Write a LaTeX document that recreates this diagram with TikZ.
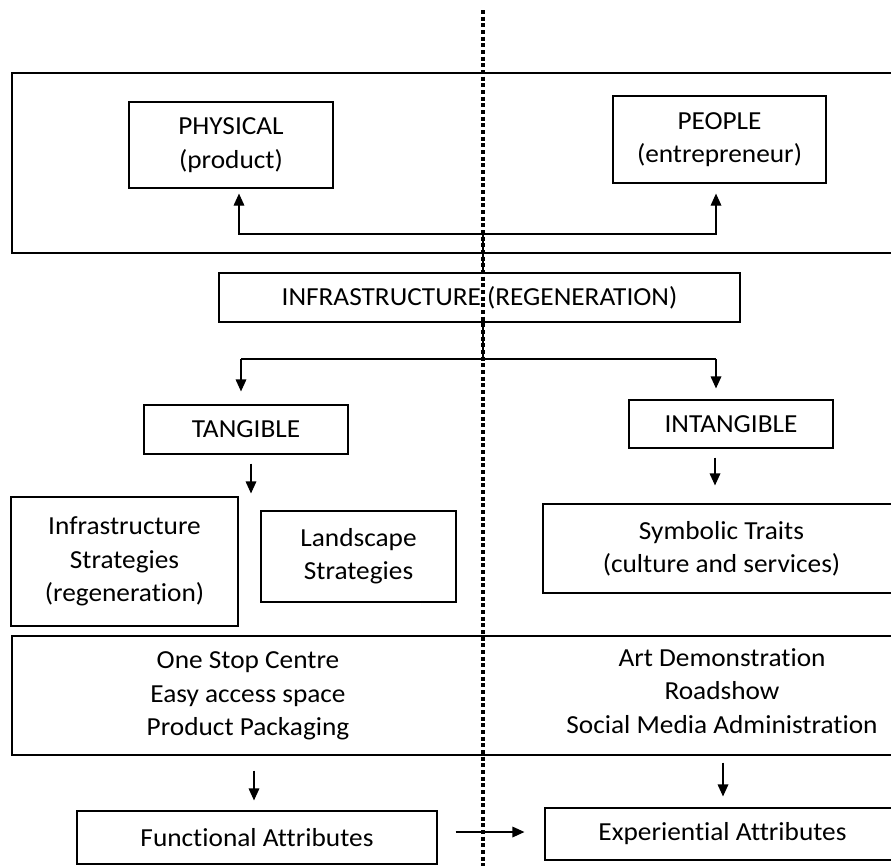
\documentclass[tikz,border=0pt]{standalone}
\usepackage{fontspec}
\setmainfont[FakeStretch=1.05,Ligatures={NoCommon}]{Carlito}
\usetikzlibrary{arrows.meta}
\newcommand\mybox[6]{\node[box, minimum width={(#4-#2)*0.75pt}, minimum height={(#5-#3)*0.75pt}] (#1) at ({(#2+#4)/2},{(#3+#5)/2}) {#6};}
\begin{document}
\begin{tikzpicture}[x=0.75pt,y=-0.75pt,
  txt/.style={inner sep=0pt, align=center, font=\fontsize{19.5}{25}\selectfont},
  box/.style={txt, draw, line width=0.9pt},
  conn/.style={line width=0.9pt},
  arr/.style={conn, -{Triangle[length=9pt,width=8pt]}},
  divider/.style={line width=3.2pt, dash pattern=on 3pt off 2pt}]
\useasboundingbox (0,0) rectangle (891,865);
\clip (0,0) rectangle (891,865);
% containers
\mybox{topbox}{12}{73}{900}{253}{}
\mybox{bigbox}{12}{636}{900}{755}{}
% boxes
\mybox{phys}{129}{102}{333}{188}{PHYSICAL\\(product)}
\mybox{people}{613}{96}{826}{183}{PEOPLE\\(entrepreneur)}
\mybox{infra}{219}{273}{740}{322}{INFRASTRUCTURE (REGENERATION)}
\mybox{tang}{144}{405}{348}{454}{TANGIBLE}
\mybox{intang}{629}{400}{833}{448}{INTANGIBLE}
\mybox{infraS}{11}{497}{238}{626}{Infrastructure\\Strategies\\(regeneration)}
\mybox{land}{261}{511}{456}{602}{Landscape\\Strategies}
\mybox{symb}{543}{504}{900}{593}{Symbolic Traits\\(culture and services)}
\mybox{func}{77}{811}{437}{864}{Functional Attributes}
\mybox{exper}{545}{808}{900}{860}{Experiential Attributes}
\node[txt] (leftlist) at (248,696) {One Stop Centre\\Easy access space\\Product Packaging};
\node[txt] (rightlist) at (722,691) {Art Demonstration\\Roadshow\\Social Media Administration};
% divider
\coordinate (dtop) at (483,10);
\coordinate (dbot) at (483,875);
\draw[divider] (dtop) -- (dbot);
% connectors
\coordinate (j1) at (483,234);
\coordinate (a1) at (239,234);
\coordinate (a2) at (716,234);
\draw[conn] (j1 |- infra.north) -- (j1);
\draw[arr, shorten >=3.75pt] (j1) -- (a1) -- (a1 |- phys.south);
\draw[arr, shorten >=7.5pt] (j1) -- (a2) -- (a2 |- people.south);
\coordinate (j2) at (483,359);
\coordinate (b1) at (241,359);
\coordinate (b2) at (716,359);
\draw[conn] (j2 |- infra.south) -- (j2);
\draw[conn] (b1) -- (b2);
\draw[arr, shorten >=9.75pt] (b1) -- (b1 |- tang.north);
\draw[arr, shorten >=8.25pt] (b2) -- (b2 |- intang.north);
\coordinate (c1) at (251,470);
\coordinate (c2) at (715,470);
\draw[arr, shorten <=6.75pt, shorten >=2.25pt] (c1 |- tang.south) -- (c1 |- infraS.north);
\draw[arr, shorten <=6.75pt, shorten >=13.5pt] (c2 |- intang.south) -- (c2 |- symb.north);
\coordinate (d1) at (254,780);
\coordinate (d2) at (723,780);
\draw[arr, shorten <=11.25pt, shorten >=7.5pt] (d1 |- bigbox.south) -- (d1 |- func.north);
\draw[arr, shorten <=5.25pt, shorten >=8.25pt] (d2 |- bigbox.south) -- (d2 |- exper.north);
\coordinate (e1) at (490,832);
\draw[arr, shorten <=13.5pt, shorten >=15pt] (e1 -| func.east) -- (e1 -| exper.west);
\end{tikzpicture}
\end{document}
